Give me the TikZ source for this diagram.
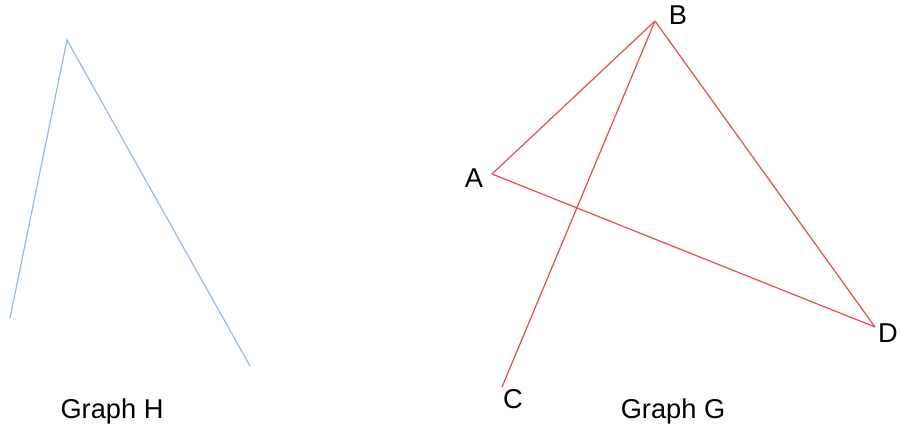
\documentclass[tikz,border=0pt]{standalone}
\usepackage{fontspec}
\setmainfont{Liberation Sans}
\definecolor{hblue}{RGB}{155,185,225}
\definecolor{gred}{RGB}{222,82,82}
\begin{document}
\begin{tikzpicture}[
    x=0.02cm, y=-0.02cm,
    hedge/.style={draw=hblue, line width=0.7pt},
    gedge/.style={draw=gred, line width=0.7pt},
    vlabel/.style={inner sep=0pt, anchor=base, font=\fontsize{15.5}{18}\selectfont},
    caption/.style={inner sep=0pt, anchor=base, font=\fontsize{15.5}{18}\selectfont}
]
\useasboundingbox (0,0) rectangle (900,429);

% --- Nodes ---
% Graph H (left)
\coordinate (htop) at (67,40);
\coordinate (hleft) at (10,318);
\coordinate (hright) at (250,366);
\node (hcap) at (112,418) [caption] {Graph H};

% Graph G (right)
\coordinate (a) at (492,174);
\coordinate (b) at (655,21);
\coordinate (c) at (502,387);
\coordinate (d) at (875,327);
\node (alabel) at (474,188) [vlabel] {A};
\node (blabel) at (678,25) [vlabel] {B};
\node (clabel) at (513,408) [vlabel] {C};
\node (dlabel) at (888,342) [vlabel] {D};
\node (gcap) at (673,418) [caption] {Graph G};

% --- Edges ---
\draw [hedge] (hleft) -- (htop) -- (hright);

\draw [gedge] (a) -- (b);
\draw [gedge] (b) -- (d);
\draw [gedge] (a) -- (d);
\draw [gedge] (b) -- (c);

\end{tikzpicture}
\end{document}
